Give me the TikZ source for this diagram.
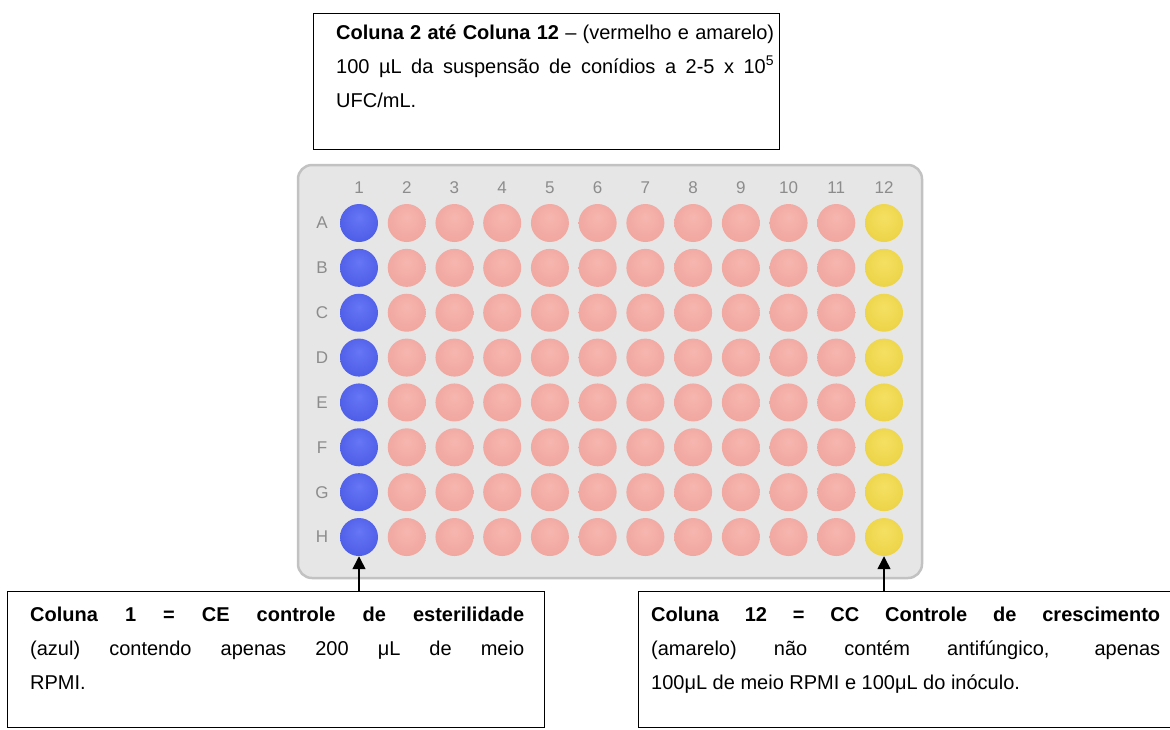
\documentclass[tikz,border=0pt]{standalone}
\usepackage{fontspec}
\setmainfont{Liberation Sans}
\usetikzlibrary{arrows.meta}
\definecolor{blueL}{HTML}{6676F6}
\definecolor{blueW}{HTML}{4D5CE6}
\definecolor{blueR}{HTML}{3543BE}
\definecolor{pinkL}{HTML}{F6B6AF}
\definecolor{pinkW}{HTML}{F0A69F}
\definecolor{pinkR}{HTML}{D48E87}
\definecolor{yelL}{HTML}{F5E062}
\definecolor{yelW}{HTML}{ECD346}
\definecolor{yelR}{HTML}{C9AF36}
\definecolor{plateF}{HTML}{E6E6E6}
\definecolor{plateD}{HTML}{C2C2C2}
\definecolor{lblC}{HTML}{8C8C8C}
\pgfdeclareradialshading{shB}{\pgfpoint{0bp}{8bp}}{color(0bp)=(blueL); color(30bp)=(blueW); color(46bp)=(blueW); color(50bp)=(blueR)}
\pgfdeclareradialshading{shP}{\pgfpoint{0bp}{8bp}}{color(0bp)=(pinkL); color(30bp)=(pinkW); color(46bp)=(pinkW); color(50bp)=(pinkR)}
\pgfdeclareradialshading{shY}{\pgfpoint{0bp}{8bp}}{color(0bp)=(yelL); color(30bp)=(yelW); color(46bp)=(yelW); color(50bp)=(yelR)}
\newcommand{\txtfont}{\fontsize{20}{34}\selectfont}
\begin{document}
\begin{tikzpicture}[x=1pt,y=-1pt,
  frame/.style={draw=black,line width=1.3pt,fill=white,inner sep=0pt,anchor=north west},
  note/.style={inner sep=0pt,anchor=base west,font=\txtfont},
  plate/.style={draw=plateD,line width=2.5pt,fill=plateF,rounded corners=14pt,inner sep=0pt},
  well/.style={circle,minimum size=38pt,inner sep=0pt},
  wb/.style={well,shading=shB},
  wp/.style={well,shading=shP},
  wy/.style={well,shading=shY},
  lbl/.style={text=lblC,font=\fontsize{17}{17}\selectfont,inner sep=0pt},
  arr/.style={line width=1.5pt,-{Triangle[width=13pt,length=13pt]}}]

\useasboundingbox (0,0) rectangle (1170,729);
\clip (0,0) rectangle (1170,729);

% plate
\node[plate,minimum width=624pt,minimum height=413pt] (plate) at (610,371.5) {};

% column labels
\foreach \c in {1,...,12}{
  \pgfmathsetmacro\xx{359+(\c-1)*47.73}
  \node[lbl] (col\c) at (\xx,188) {\c};
}
% rows of wells
\foreach \r/\L in {1/A,2/B,3/C,4/D,5/E,6/F,7/G,8/H}{
  \pgfmathsetmacro\yy{223+(\r-1)*44.86}
  \node[lbl] (row\r) at (322,\yy) {\L};
  \node[wb] (w-\r-1) at (359,\yy) {};
  \foreach \c in {2,...,11}{
    \pgfmathsetmacro\xx{359+(\c-1)*47.73}
    \node[wp] (w-\r-\c) at (\xx,\yy) {};
  }
  \node[wy] (w-\r-12) at (884,\yy) {};
}

% top box
\node[frame,minimum width=466pt,minimum height=136pt] (boxT) at (313,13) {};
\node[note] (tT1) at (336,39) {\makebox[438pt][s]{\textbf{Coluna 2 até Coluna 12} – (vermelho e amarelo)}};
\node[note] (tT2) at (336,73) {\makebox[438pt][s]{100 µL da suspensão de conídios a 2-5 x 10\textsuperscript{5}}};
\node[note] (tT3) at (336,107) {UFC/mL.};

% bottom left box
\node[frame,minimum width=537pt,minimum height=136pt] (boxL) at (7,591) {};
\node[note] (tL1) at (30,621) {\makebox[494pt][s]{\textbf{Coluna 1 = CE controle de esterilidade}}};
\node[note] (tL2) at (30,655) {\makebox[494pt][s]{(azul) contendo apenas 200 μL de meio}};
\node[note] (tL3) at (30,689) {RPMI.};

% bottom right box
\node[frame,minimum width=545pt,minimum height=136pt] (boxR) at (638,591) {};
\node[note] (tR1) at (651,621) {\makebox[509pt][s]{\textbf{Coluna 12 = CC Controle de crescimento}}};
\node[note] (tR2) at (651,655) {\makebox[509pt][s]{(amarelo) não contém antifúngico, apenas}};
\node[note] (tR3) at (651,689) {100μL de meio RPMI e 100μL do inóculo.};

% arrows
\draw[arr] (w-8-1 |- boxL.north) -- (w-8-1.south);
\draw[arr] (w-8-12 |- boxR.north) -- (w-8-12.south);
\end{tikzpicture}
\end{document}
